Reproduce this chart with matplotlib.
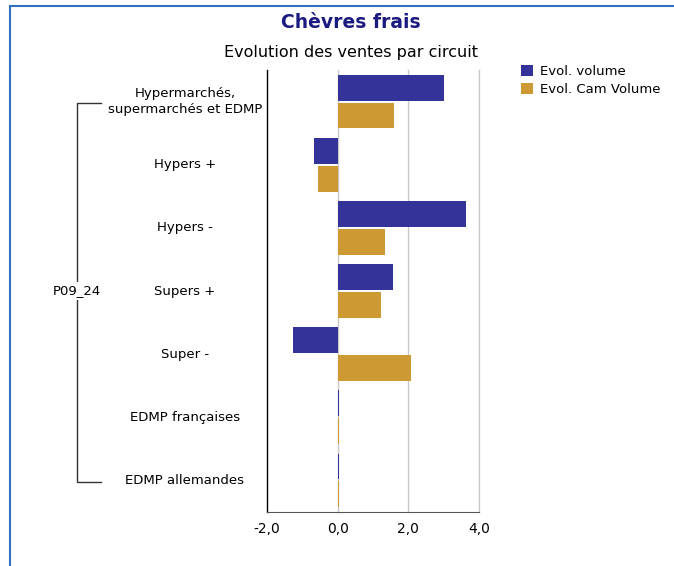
import numpy as np
import matplotlib
matplotlib.use("Agg")
import matplotlib.pyplot as plt
from matplotlib.patches import Rectangle
import matplotlib.transforms as mtransforms

categories = ["Hypermarchés,\nsupermarchés et EDMP", "Hypers +", "Hypers -",
              "Supers +", "Super -", "EDMP françaises", "EDMP allemandes"]
evol_volume = [3.0, -0.68, 3.62, 1.58, -1.27, 0.03, 0.03]
evol_cam_volume = [1.6, -0.57, 1.35, 1.24, 2.08, 0.03, 0.03]
series_names = ["Evol. volume", "Evol. Cam Volume"]
group_label = "P09_24"
xticks = [-2, 0, 2, 4]

blue = "#333399"
gold = "#CC9933"

W, H = 674, 566
fig = plt.figure(figsize=(W / 100, H / 100), dpi=100)
ax = fig.add_axes([267 / W, 1 - 512 / H, 212 / W, 442 / H])

y = np.arange(len(categories))
h = 0.41
ax.barh(y - 0.22, evol_volume, height=h, color=blue, label=series_names[0], zorder=3)
ax.barh(y + 0.22, evol_cam_volume, height=h, color=gold, label=series_names[1], zorder=3)

ax.set_xlim(-2, 4)
ax.set_ylim(len(categories) - 0.5, -0.5)
ax.set_xticks(xticks)
ax.set_xticklabels([f"{v:.1f}".replace(".", ",") for v in xticks], fontsize=10)
ax.tick_params(axis="x", length=0, pad=7)
ax.set_yticks([])
for v in [0, 2, 4]:
    ax.axvline(v, color="#c8c8c8", lw=1, zorder=1, clip_on=False)
for s in ["top", "right"]:
    ax.spines[s].set_visible(False)
ax.spines["left"].set_color("black")
ax.spines["left"].set_linewidth(1)
ax.spines["bottom"].set_color("#555555")

# category labels
trans = mtransforms.blended_transform_factory(ax.transAxes, ax.transData)
for i, c in enumerate(categories):
    ax.text(-0.387, i, c, transform=trans, ha="center", va="center",
            fontsize=9.5, linespacing=1.3)

# group bracket
bx, tx = -0.896, -0.783
ax.plot([tx, bx, bx, tx], [0.02, 0.02, 6.02, 6.02], transform=trans,
        color="#333333", lw=1, clip_on=False)
ax.text(bx, 3.0, group_label, transform=trans, ha="center", va="center",
        fontsize=9.5, bbox=dict(facecolor="white", edgecolor="none", pad=1.5))

# titles
fig.text(351 / W, 1 - 22 / H, "Chèvres frais", ha="center", va="center",
         fontsize=13.5, fontweight="bold", color="#1a1a80")
fig.text(351 / W, 1 - 52 / H, "Evolution des ventes par circuit", ha="center",
         va="center", fontsize=11.5)

fig.legend(loc="upper left", bbox_to_anchor=(516 / W, 1 - 60 / H), frameon=False,
           fontsize=9.5, handlelength=0.9, handleheight=0.9, handletextpad=0.5,
           labelspacing=0.35, borderaxespad=0)

# outer frame
fig.patches.append(Rectangle((10 / W, -0.1), 1.2, 1 - 6 / H + 0.1,
                             transform=fig.transFigure, fill=False,
                             edgecolor="#3070c0", lw=1.5))

fig.savefig("out.png", dpi=100)
